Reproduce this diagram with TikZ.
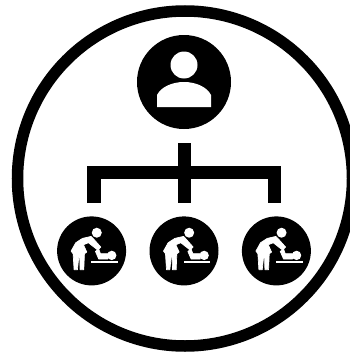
\documentclass[tikz,border=0pt]{standalone}
\usepackage{xcolor}
\usepackage{tikz}
\usetikzlibrary{positioning}

\begin{document}
\begin{tikzpicture}[
  x=1pt,y=-1pt,
  node distance=87pt and 23pt,
  boss/.style={circle,fill=black,inner sep=0pt,minimum size=94pt},
  kid/.style={circle,fill=black,inner sep=0pt,minimum size=69pt},
  branch/.style={line width=13.5pt,color=black},
  ring/.style={line width=11.5pt,color=black},
  figure/.style={fill=white,draw=none},
  thick figure/.style={fill=white,draw=white,line width=.7pt,line join=round},
  changing/.pic={
    \begin{scope}[x=.3333pt,y=-.3333pt,shift={(-127.5,-121.5)}]
    % adult
    \fill[figure] (143,67) circle (15);
    \filldraw[thick figure] (126,78) -- (100,84) -- (80,97) -- (66,122) -- (72,130) -- (75,178) -- (85,178)
      -- (89,140) -- (92,140) -- (93,178) -- (104,178) -- (106,130) -- (113,125) -- (103,103)
      -- (118,97) -- (146,119) -- (155,110) -- (131,83) -- cycle;
    % baby and table
    \fill[figure] (188,135) circle (14);
    \filldraw[thick figure] (139,123) -- (149,116) -- (154,130) -- (176,130) -- (176,146) -- (149,146) -- cycle;
    \fill[figure] (127,151) rectangle (206,159);
    \end{scope}
  }
]
\useasboundingbox (0,0) rectangle (350,356);
\clip (0,0) rectangle (350,356);
\fill[white] (0,0) rectangle (350,356);
\draw[ring] (185,178.5) circle (167.5);
\node[boss] (parent) at (184,82) {};
\node[kid,below=of parent] (kidB) {};
\node[kid,left=of kidB] (kidA) {};
\node[kid,right=of kidB] (kidC) {};
% person on the top circle
\fill[figure] (184,65) circle (13.5);
\fill[figure] (157,107) -- (157,95) .. controls (161,87) and (172,82) .. (184,82)
  .. controls (196,82) and (207,87) .. (211,95) -- (211,107) -- cycle;
\pic at (kidA) {changing};
\pic at (kidB) {changing};
\pic at (kidC) {changing};
% tree
\coordinate (stem) at (184.5,143);
\coordinate (legA) at (94,203);
\coordinate (legB) at (184.5,203);
\coordinate (legC) at (274.5,203);
\coordinate (joint) at (184.5,172.5);
\draw[branch] (stem) -- (legB);
\draw[branch] (legA) |- (joint) -| (legC);
\end{tikzpicture}
\end{document}
